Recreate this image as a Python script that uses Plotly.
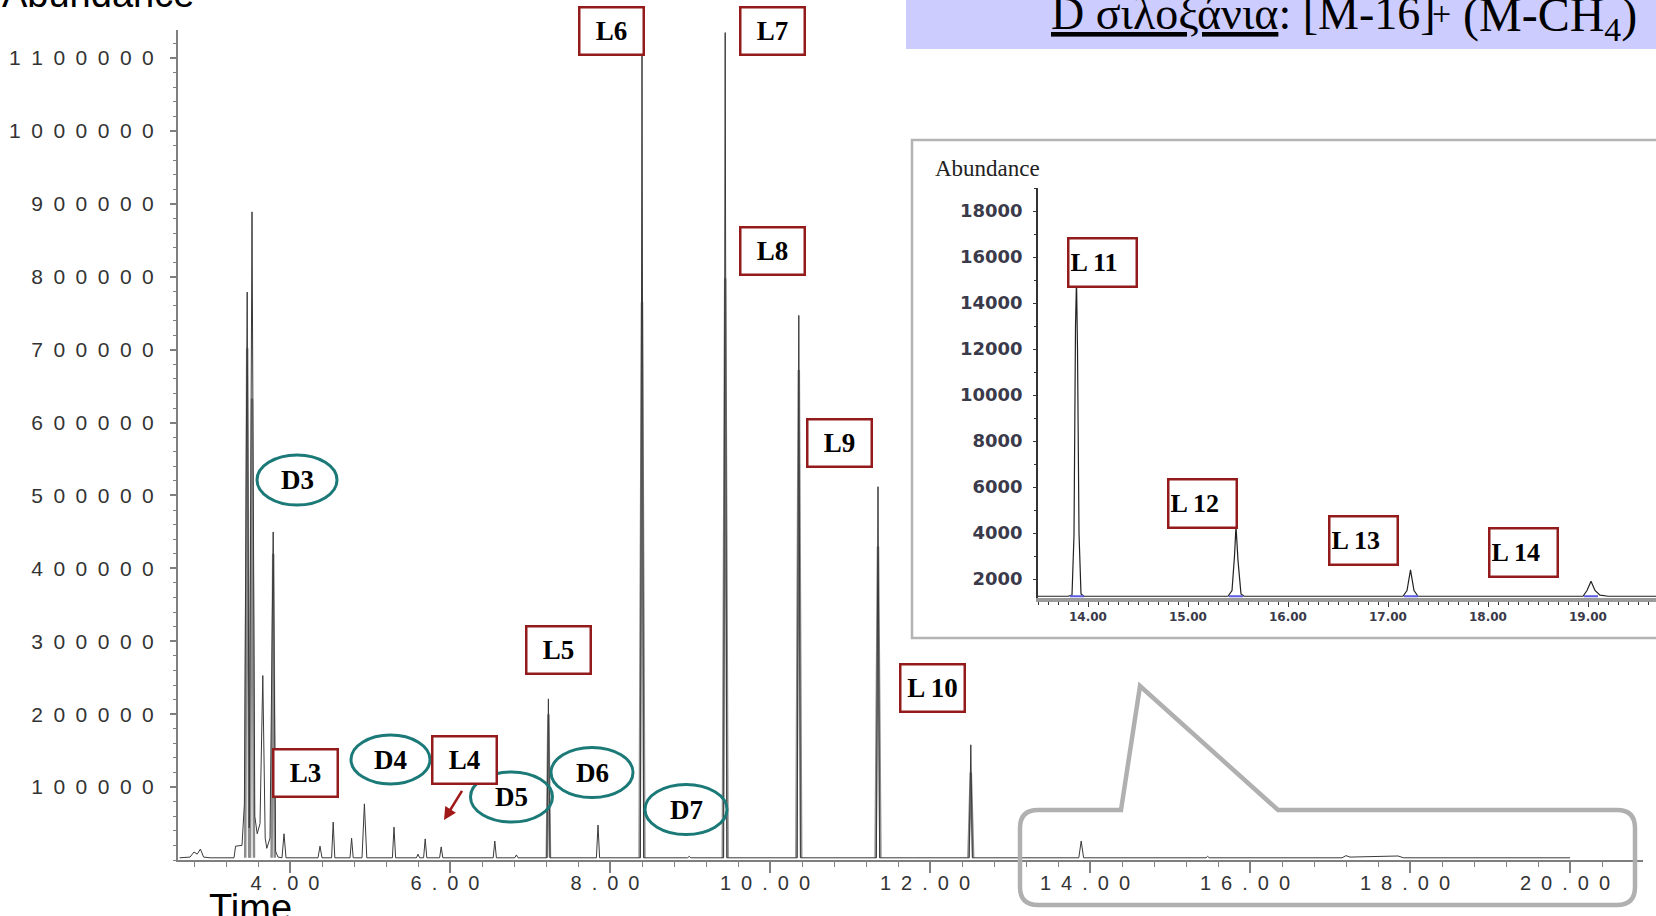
import plotly.graph_objects as go

W, H = 1656, 916

# ---------------- data ----------------
# main chromatogram, thin trace (retention time in min, abundance)
main_time_a = [2.62, 2.75, 2.80, 2.84, 2.88, 2.92, 3.00, 3.30, 3.32, 3.40, 3.43, 3.465, 3.49, 3.525,
               3.56, 3.59, 3.625, 3.66, 3.69, 3.71, 3.75, 3.79, 3.82, 3.85, 3.90, 3.925, 3.95,
               4.35, 4.375, 4.40, 4.52, 4.54, 4.56, 4.75, 4.77, 4.79, 4.90, 4.93, 4.96,
               5.28, 5.30, 5.32, 5.58, 5.60, 5.62, 5.67, 5.69, 5.71, 5.87, 5.89, 5.91,
               6.54, 6.56, 6.58, 6.81, 6.83, 6.85, 7.21, 7.23, 7.25, 7.83, 7.85, 7.87,
               8.38, 8.40, 8.42, 8.97, 8.99, 9.01, 9.42, 9.44, 9.46, 10.34, 10.36, 10.38,
               11.33, 11.35, 11.37, 11.79, 11.81, 11.83, 12.22, 12.24, 12.26, 12.49, 12.51, 12.53,
               13.86, 13.89, 13.92, 15.45, 15.47, 15.49, 17.15, 17.20, 17.25, 17.50, 17.60,
               17.75, 17.85, 17.92, 18.98, 19.00, 19.02, 20.00]
main_abund_a = [3000, 4000, 11000, 8000, 15000, 4000, 3000, 3000, 19000, 20000, 77000, 779000, 44000, 889000,
                60000, 36000, 50000, 253000, 30000, 16000, 30000, 450000, 12000, 4000, 3000, 36000, 3000,
                3000, 19000, 3000, 3000, 52000, 3000, 3000, 30000, 3000, 3000, 77000, 3000,
                3000, 45000, 3000, 3000, 8000, 3000, 3000, 29000, 3000, 3000, 18000, 3000,
                3000, 26000, 3000, 3000, 7000, 3000, 3000, 221000, 3000, 3000, 48000, 3000,
                3000, 1110000, 3000, 3000, 5000, 3000, 3000, 1135000, 3000, 3000, 747000, 3000,
                3000, 512000, 3000, 3000, 3000, 3000, 3000, 4000, 3000, 3000, 158000, 3000,
                3000, 26000, 3000, 3000, 5000, 3000, 3000, 6000, 4000, 5000, 4500,
                6000, 5500, 3000, 3000, 4000, 3000, 3000]

# main chromatogram, broad lower trace (segments separated by None)
main_time_b = [3.44, 3.465, 3.49, None, 3.50, 3.525, 3.55, None, 3.77, 3.79, 3.81, None,
               7.21, 7.23, 7.25, None, 8.37, 8.40, 8.43, None, 9.41, 9.44, 9.47, None,
               10.33, 10.36, 10.39, None, 11.32, 11.35, 11.38, None, 12.48, 12.51, 12.54]
main_abund_b = [3000, 702000, 3000, None, 3000, 633000, 3000, None, 3000, 420000, 3000, None,
                3000, 200000, 3000, None, 3000, 765000, 3000, None, 3000, 798000, 3000, None,
                3000, 672000, 3000, None, 3000, 430000, 3000, None, 3000, 120000, 3000]

# inset chromatogram (13.5 - 19.7 min)
inset_time = [13.50, 13.80, 13.84, 13.86, 13.875, 13.885, 13.895, 13.91, 13.93, 13.96,
              15.40, 15.44, 15.465, 15.48, 15.50, 15.53, 15.56,
              17.15, 17.19, 17.225, 17.26, 17.30,
              18.95, 18.99, 19.03, 19.07, 19.12, 19.20, 19.70]
inset_abund = [1250, 1250, 1300, 3900, 13000, 15000, 12000, 4000, 1350, 1250,
               1250, 1500, 3000, 4300, 2800, 1350, 1250,
               1250, 1500, 2400, 1500, 1250,
               1250, 1500, 1900, 1500, 1300, 1250, 1250]
inset_marker_time = [13.89, 15.48, 17.23, 19.03]
inset_marker_abund = [1250, 1250, 1250, 1250]

# tick labels
main_x_ticks = [4, 6, 8, 10, 12, 14, 16, 18, 20]
main_x_labels = ["4.00", "6.00", "8.00", "10.00", "12.00", "14.00", "16.00", "18.00", "20.00"]
main_y_ticks = [100000, 200000, 300000, 400000, 500000, 600000, 700000, 800000, 900000, 1000000, 1100000]
main_y_labels = ["100000", "200000", "300000", "400000", "500000", "600000", "700000",
                 "800000", "900000", "1000000", "1100000"]
inset_x_ticks = [14, 15, 16, 17, 18, 19]
inset_x_labels = ["14.00", "15.00", "16.00", "17.00", "18.00", "19.00"]
inset_y_ticks = [2000, 4000, 6000, 8000, 10000, 12000, 14000, 16000, 18000]
inset_y_labels = ["2000", "4000", "6000", "8000", "10000", "12000", "14000", "16000", "18000"]

# peak labels: (text, centre x px, centre y px)
l_labels = [("L3", 305.5, 773), ("L4", 464.5, 759.5), ("L5", 558.5, 650), ("L6", 611.5, 30.5),
            ("L7", 772, 30.5), ("L8", 772, 250.5), ("L9", 839.5, 443.5), ("L 10", 932.5, 687.5)]
inset_l_labels = [("L 11", 1102, 262), ("L 12", 1202, 504), ("L 13", 1363, 540), ("L 14", 1523, 552)]
d_labels = [("D3", 297, 480, 40, 25), ("D4", 390.5, 759.5, 39.5, 24.5), ("D5", 511.5, 797, 41, 25),
            ("D6", 592, 772.5, 41, 25), ("D7", 686, 809.5, 41, 25)]

title_left = "<u>D σιλοξάνια</u>: [M-16]"
title_sup = "+"
title_right = "(M-CH<sub>4</sub>)"


def px(x):
    return x / W


def py(y):
    return 1 - y / H


def spaced(s):
    return "\u2002".join(s) + "\u2002"


RED = "#941b1b"
TEAL = "#1b7a78"
AXIS_GREY = "#7f7f7f"
SERIF = "Liberation Serif, Times New Roman, serif"
SANS = "Liberation Sans, Arial, sans-serif"

fig = go.Figure()

fig.add_trace(go.Scatter(x=main_time_b, y=main_abund_b, mode="lines", connectgaps=False,
                         line=dict(color="#8c8c8c", width=2.5), xaxis="x", yaxis="y",
                         showlegend=False, hoverinfo="skip"))
fig.add_trace(go.Scatter(x=main_time_a, y=main_abund_a, mode="lines",
                         line=dict(color="#3a3a3a", width=1), xaxis="x", yaxis="y",
                         showlegend=False))
fig.add_trace(go.Scatter(x=inset_time, y=inset_abund, mode="lines",
                         line=dict(color="#222222", width=1.2), xaxis="x2", yaxis="y2",
                         showlegend=False))
fig.add_trace(go.Scatter(x=inset_marker_time, y=inset_marker_abund, mode="markers",
                         marker=dict(symbol="line-ew", size=10, line=dict(color="#5a5ae0", width=2)),
                         xaxis="x2", yaxis="y2", showlegend=False, hoverinfo="skip"))

shapes = []
# title band
shapes.append(dict(type="rect", xref="paper", yref="paper", x0=px(906), x1=1.01, y0=py(49), y1=1.01,
                   fillcolor="#ccccff", line=dict(width=0), layer="below"))
# inset frame
shapes.append(dict(type="rect", xref="paper", yref="paper", x0=px(912), x1=1.02, y0=py(638), y1=py(140),
                   fillcolor="white", line=dict(color="#b4b4b4", width=2.5), layer="below"))
# call-out frame
r = 18
path = ""
path += "M {} {} ".format(px(1121), py(810))
path += "L {} {} ".format(px(1140), py(686))
path += "L {} {} ".format(px(1278), py(810))
path += "L {} {} ".format(px(1635 - r), py(810))
path += "Q {} {} {} {} ".format(px(1635), py(810), px(1635), py(810 + r))
path += "L {} {} ".format(px(1635), py(905 - r))
path += "Q {} {} {} {} ".format(px(1635), py(905), px(1635 - r), py(905))
path += "L {} {} ".format(px(1020 + r), py(905))
path += "Q {} {} {} {} ".format(px(1020), py(905), px(1020), py(905 - r))
path += "L {} {} ".format(px(1020), py(810 + r))
path += "Q {} {} {} {} ".format(px(1020), py(810), px(1020 + r), py(810))
path += "Z"
shapes.append(dict(type="path", xref="paper", yref="paper", path=path,
                   line=dict(color="#b0b0b0", width=4.5)))
# ellipses
for _, cx, cy, rx, ry in d_labels:
    shapes.append(dict(type="circle", xref="paper", yref="paper",
                       x0=px(cx - rx), x1=px(cx + rx), y0=py(cy + ry), y1=py(cy - ry),
                       line=dict(color=TEAL, width=3)))

annotations = []
for txt, cx, cy in l_labels:
    annotations.append(dict(text="<b>%s</b>" % txt, xref="paper", yref="paper", x=px(cx), y=py(cy),
                            xanchor="center", yanchor="middle", showarrow=False,
                            font=dict(family=SERIF, size=27, color="black"),
                            bgcolor="white", bordercolor=RED, borderwidth=2.5, borderpad=1,
                            width=60, height=43))
for txt, cx, cy in inset_l_labels:
    annotations.append(dict(text="<b>%s</b>" % txt, xref="paper", yref="paper", x=px(cx), y=py(cy),
                            xanchor="center", yanchor="middle", showarrow=False, align="left",
                            font=dict(family=SERIF, size=26, color="black"),
                            bgcolor="white", bordercolor=RED, borderwidth=2.5, borderpad=1,
                            width=64, height=44))
for txt, cx, cy, rx, ry in d_labels:
    annotations.append(dict(text="<b>%s</b>" % txt, xref="paper", yref="paper", x=px(cx), y=py(cy),
                            xanchor="center", yanchor="middle", showarrow=False,
                            font=dict(family=SERIF, size=27, color="black")))
# L4 arrow
annotations.append(dict(text=" ", xref="paper", yref="paper", x=px(444), y=py(820), ax=21, ay=-34,
                        showarrow=True, arrowhead=2, arrowsize=1, arrowwidth=2.5, arrowcolor="#a01818"))
# texts
annotations.append(dict(text="Time", xref="paper", yref="paper", x=px(250), y=py(908),
                        xanchor="center", yanchor="middle", showarrow=False,
                        font=dict(family=SANS, size=38, color="black")))
annotations.append(dict(text="Abundance", xref="paper", yref="paper", x=0, y=py(17),
                        xanchor="left", yanchor="bottom", showarrow=False,
                        font=dict(family=SANS, size=38, color="black")))
annotations.append(dict(text="Abundance", xref="paper", yref="paper", x=px(933), y=py(169),
                        xanchor="left", yanchor="middle", showarrow=False,
                        font=dict(family=SERIF, size=23, color="#222222")))
annotations.append(dict(text=title_left, xref="paper", yref="paper", x=px(1049), y=py(-14),
                        xanchor="left", yanchor="top", showarrow=False,
                        font=dict(family=SERIF, size=46, color="black")))
annotations.append(dict(text=title_sup, xref="paper", yref="paper", x=px(1441), y=py(14),
                        xanchor="center", yanchor="middle", showarrow=False,
                        font=dict(family=SERIF, size=34, color="black")))
annotations.append(dict(text=title_right, xref="paper", yref="paper", x=px(1550), y=py(-14),
                        xanchor="center", yanchor="top", showarrow=False,
                        font=dict(family=SERIF, size=48, color="black")))

fig.update_layout(
    width=W, height=H,
    margin=dict(l=0, r=0, t=0, b=0),
    paper_bgcolor="white", plot_bgcolor="rgba(0,0,0,0)",
    showlegend=False,
    xaxis=dict(domain=[px(178), px(1643)], range=[2.6, 20.9125], anchor="y",
               showline=True, linecolor=AXIS_GREY, linewidth=2, mirror=False,
               showgrid=False, zeroline=False,
               ticks="outside", ticklen=11, tickwidth=1.5, tickcolor=AXIS_GREY,
               tickvals=main_x_ticks, ticktext=[spaced(s) for s in main_x_labels],
               ticklabelstandoff=-7,
               tickfont=dict(family=SANS, size=20, color="#333333"),
               minor=dict(tick0=0, dtick=0.4, ticks="outside", ticklen=5, tickwidth=1.2, tickcolor=AXIS_GREY)),
    yaxis=dict(domain=[py(860), py(30)], range=[0, 1138500], anchor="x",
               showline=True, linecolor=AXIS_GREY, linewidth=2,
               showgrid=False, zeroline=False,
               ticks="outside", ticklen=6, tickwidth=1.5, tickcolor=AXIS_GREY,
               tickvals=main_y_ticks, ticktext=["\u2002".join(s) for s in main_y_labels],
               ticklabelstandoff=12,
               tickfont=dict(family=SANS, size=21, color="#333333"),
               minor=dict(tick0=0, dtick=20000, ticks="outside", ticklen=3, tickwidth=1.2, tickcolor=AXIS_GREY)),
    xaxis2=dict(domain=[px(1038), 1.0], range=[13.5, 19.68], anchor="y2",
                showline=True, linecolor="#9a9a9a", linewidth=4,
                showgrid=False, zeroline=False,
                ticks="outside", ticklen=5, tickwidth=1.2, tickcolor="#333333",
                tickvals=inset_x_ticks, ticktext=inset_x_labels,
                tickfont=dict(family="DejaVu Sans, sans-serif", size=12, color="#3a3a4a", weight="bold"),
                minor=dict(tick0=0, dtick=0.1, ticks="outside", ticklen=3, tickwidth=1, tickcolor="#333333")),
    yaxis2=dict(domain=[py(598), py(188)], range=[1174, 19000], anchor="x2",
                showline=True, linecolor="#333333", linewidth=1.5,
                showgrid=False, zeroline=False,
                ticks="outside", ticklen=3, tickwidth=1.2, tickcolor="#333333",
                tickvals=inset_y_ticks, ticktext=inset_y_labels,
                ticklabelstandoff=7,
                tickfont=dict(family="DejaVu Sans, sans-serif", size=18, color="#3a3a4a", weight="bold"),
                minor=dict(tick0=0, dtick=1000, ticks="outside", ticklen=2, tickwidth=1, tickcolor="#333333")),
    shapes=shapes,
    annotations=annotations,
)

fig.write_html("out.html", config={"displayModeBar": False},
               post_script="document.body.style.margin='0';document.body.style.overflow='hidden';")
